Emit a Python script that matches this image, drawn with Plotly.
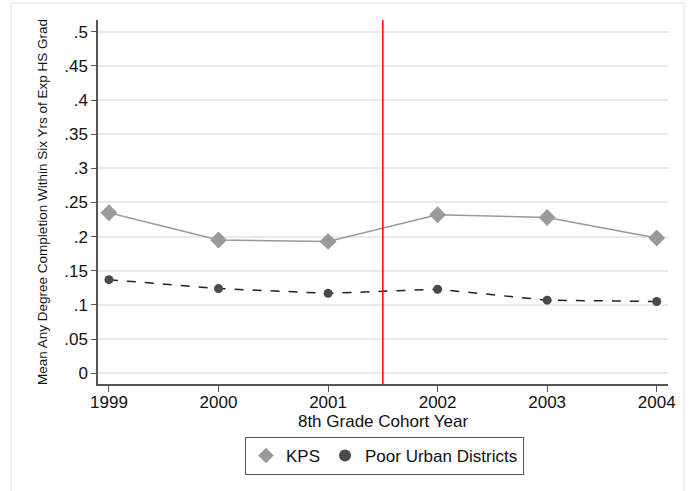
import plotly.graph_objects as go

years = [1999, 2000, 2001, 2002, 2003, 2004]
kps = [0.235, 0.195, 0.193, 0.232, 0.228, 0.198]
poor_urban = [0.137, 0.124, 0.117, 0.123, 0.107, 0.105]
y_ticks = [0, 0.05, 0.1, 0.15, 0.2, 0.25, 0.3, 0.35, 0.4, 0.45, 0.5]
y_tick_labels = ["0", ".05", ".1", ".15", ".2", ".25", ".3", ".35", ".4", ".45", ".5"]
cutoff_year = 2001.5

KPS_COL = "#9a9a9a"
POOR_COL = "#4a4a4a"
FONT = "Liberation Sans, Arial, sans-serif"

L, R, T, B = 98, 21, 20, 107
PW = 689 - L - R
PH = 491 - T - B

fig = go.Figure()
fig.add_trace(go.Scatter(
    x=years, y=kps, mode="lines+markers", name="KPS", showlegend=False,
    line=dict(color=KPS_COL, width=1.5),
    marker=dict(symbol="diamond", size=13, color=KPS_COL)))
fig.add_trace(go.Scatter(
    x=years, y=poor_urban, mode="lines+markers", name="Poor Urban Districts", showlegend=False,
    line=dict(color="#222222", width=1.5, dash="dash"),
    marker=dict(symbol="circle", size=9, color=POOR_COL)))
# legend-only entries (markers only, like the original)
fig.add_trace(go.Scatter(x=[None], y=[None], mode="markers", name="KPS",
                         marker=dict(symbol="diamond", size=12, color=KPS_COL)))
fig.add_trace(go.Scatter(x=[None], y=[None], mode="markers", name="Poor Urban Districts",
                         marker=dict(symbol="circle", size=9, color=POOR_COL)))

fig.add_shape(type="line", x0=cutoff_year, x1=cutoff_year, xref="x", y0=0, y1=1, yref="paper",
              line=dict(color="#ff0000", width=1.5))
# faint outer frame
fig.add_shape(type="rect", xref="paper", yref="paper",
              x0=(11 - L) / PW, x1=(684 - L) / PW, y0=(T + PH - 500) / PH, y1=(T + PH - 3) / PH,
              line=dict(color="#ececec", width=1.5), layer="below")

fig.update_layout(
    width=689, height=491,
    margin=dict(l=L, r=R, t=T, b=B, autoexpand=False),
    paper_bgcolor="white", plot_bgcolor="white",
    font=dict(family=FONT, size=17, color="#111111"),
    legend=dict(orientation="h", x=(384.5 - L) / PW, xanchor="center", yref="container",
                y=(491 - 437) / 491, yanchor="top",
                bordercolor="#555555", borderwidth=1, font=dict(size=17, color="#111111"),
                itemsizing="constant", itemwidth=30, tracegroupgap=0),
    xaxis=dict(range=[1998.9, 2004.103], tickvals=years, ticktext=[str(y) for y in years],
               ticks="outside", ticklen=6, tickcolor="#555555", showgrid=False,
               showline=True, linecolor="#555555", linewidth=1.5, zeroline=False,
               tickfont=dict(size=17), automargin=False, ticklabelstandoff=-4,
               title=dict(text="8th Grade Cohort Year", font=dict(size=17), standoff=0)),
    yaxis=dict(range=[-0.0157, 0.5171], tickvals=y_ticks, ticktext=y_tick_labels,
               ticks="outside", ticklen=5, tickcolor="#555555",
               showgrid=True, gridcolor="#eaeaea", gridwidth=1.5,
               showline=True, linecolor="#555555", linewidth=1.5, zeroline=False,
               tickfont=dict(size=17), automargin=False,
               title=dict(text="Mean Any Degree Completion Within Six Yrs of Exp HS Grad",
                          font=dict(size=13.5), standoff=13)),
)

fig.write_html("out.html", config={"displayModeBar": False},
               post_script="document.body.style.margin='0';")
